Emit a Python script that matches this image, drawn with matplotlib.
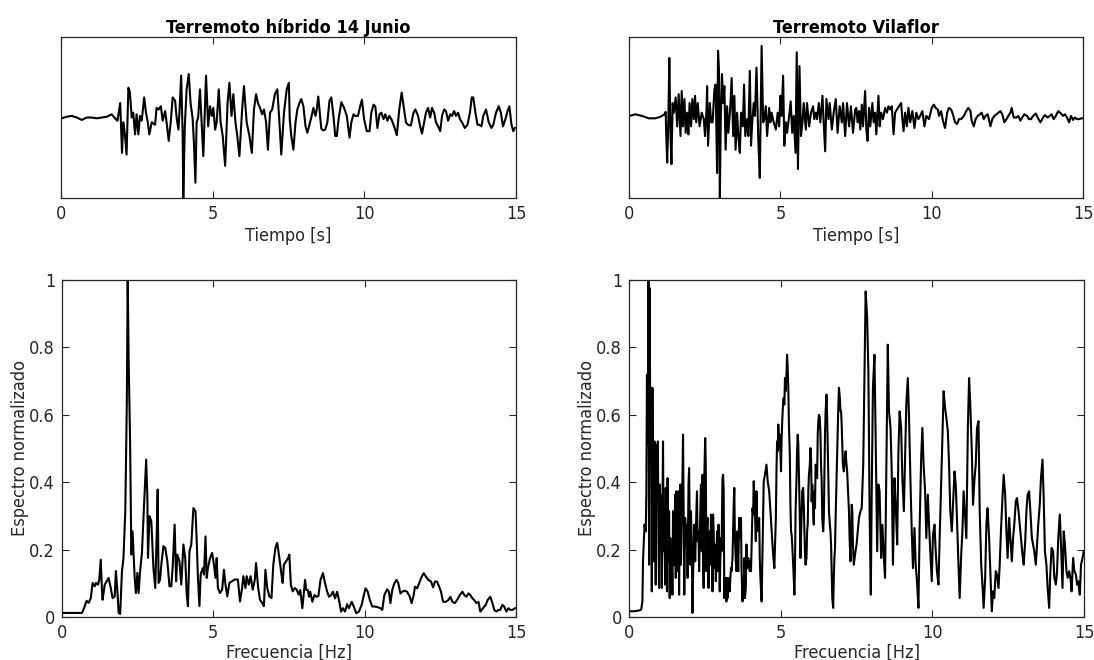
import matplotlib
matplotlib.use("Agg")
import matplotlib.pyplot as plt

plt.rcParams["font.family"] = ["DejaVu Sans"]
plt.rcParams["font.stretch"] = "condensed"

# --- señal: terremoto híbrido 14 junio (tiempo [s], amplitud normalizada) ---
t_hib = [0.02, 0.19, 0.35, 0.52, 0.68, 0.85, 1.01, 1.18, 1.34, 1.51,
         1.67, 1.78, 1.86, 1.95, 2.01, 2.05, 2.10, 2.16, 2.22, 2.27,
         2.33, 2.38, 2.44, 2.49, 2.55, 2.60, 2.66, 2.74, 2.80, 2.86,
         2.91, 2.99, 3.10, 3.15, 3.22, 3.29, 3.35, 3.43, 3.48, 3.55,
         3.62, 3.68, 3.76, 3.81, 3.87, 3.90, 3.96, 4.01, 4.03, 4.08,
         4.14, 4.21, 4.27, 4.34, 4.38, 4.43, 4.47, 4.52, 4.58, 4.64,
         4.69, 4.78, 4.85, 4.91, 4.97, 5.02, 5.08, 5.13, 5.20, 5.26,
         5.33, 5.41, 5.49, 5.55, 5.62, 5.68, 5.75, 5.81, 5.88, 5.97,
         6.03, 6.12, 6.21, 6.29, 6.36, 6.43, 6.49, 6.56, 6.63, 6.69,
         6.76, 6.82, 6.89, 6.96, 7.05, 7.13, 7.20, 7.26, 7.35, 7.44,
         7.51,
         7.54, 7.59, 7.66, 7.73, 7.79, 7.86, 7.92, 7.99, 8.06, 8.12,
         8.19, 8.25, 8.32, 8.39, 8.43, 8.48, 8.54, 8.58, 8.65, 8.71,
         8.78, 8.85, 8.91, 8.98, 9.04, 9.09, 9.15, 9.24, 9.33, 9.42,
         9.51, 9.57, 9.64, 9.70, 9.79, 9.86, 9.92, 9.99, 10.08, 10.17,
         10.23, 10.30, 10.36, 10.43, 10.50, 10.56, 10.63, 10.69, 10.76, 10.82,
         10.89, 10.98, 11.07, 11.15, 11.23, 11.31, 11.37, 11.44, 11.53, 11.62,
         11.68, 11.77, 11.84, 11.90, 11.97, 12.03, 12.10, 12.17, 12.23, 12.30,
         12.36, 12.43, 12.50, 12.56, 12.63, 12.69, 12.76, 12.83, 12.89, 12.96,
         13.02, 13.09, 13.15, 13.22, 13.31, 13.40, 13.48, 13.54, 13.59, 13.66,
         13.73, 13.79, 13.86, 13.92, 14.01, 14.10, 14.19, 14.25, 14.34, 14.43,
         14.50, 14.57, 14.65, 14.72, 14.78, 14.85, 14.91, 14.96]
a_hib = [-0.01, 0.01, 0.02, 0.00, -0.03, 0.00, 0.00, -0.01, 0.00, 0.01,
         0.04, -0.01, -0.04, 0.18, -0.44, -0.06, -0.19, -0.46, 0.37, 0.31,
         0.00, 0.06, -0.21, 0.04, -0.21, 0.02, -0.04, 0.25, 0.06, -0.06,
         -0.21, -0.06, -0.09, 0.12, 0.10, 0.14, -0.04, 0.08, -0.06, -0.29,
         -0.04, 0.25, 0.21, 0.00, -0.15, 0.04, 0.52, -0.23, -1.00, -0.11,
         0.35, 0.54, 0.18, -0.02, -0.31, -0.81, -0.06, 0.00, 0.35, -0.11,
         -0.48, 0.52, -0.11, 0.14, 0.02, 0.12, -0.15, -0.06, 0.35, -0.06,
         -0.23, -0.60, 0.18, 0.43, 0.02, 0.29, -0.06, -0.23, -0.48, 0.10,
         0.39, -0.06, -0.23, -0.44, 0.10, 0.29, 0.18, 0.12, 0.04, 0.10,
         -0.06, -0.40, 0.06, 0.10, 0.29, 0.35, -0.06, -0.46, 0.06, 0.35,
         0.43,
         -0.02, -0.23, -0.40, -0.06, 0.10, 0.18, 0.23, 0.14, -0.11, -0.19,
         -0.09, 0.00, 0.12, 0.02, 0.10, 0.26, 0.02, -0.14, -0.16, -0.15,
         -0.06, 0.21, 0.25, 0.02, -0.23, -0.23, -0.02, 0.19, 0.12, 0.02,
         -0.25, -0.06, 0.04, 0.02, 0.02, 0.14, 0.22, -0.02, -0.17, -0.17,
         0.06, 0.16, 0.14, -0.13, 0.04, 0.06, -0.02, 0.04, -0.04, 0.02,
         -0.02, -0.11, -0.22, 0.10, 0.31, 0.10, -0.06, -0.09, -0.10, 0.06,
         0.10, 0.02, -0.11, -0.20, -0.06, 0.06, 0.12, 0.00, 0.12, 0.06,
         -0.06, -0.11, -0.17, 0.02, 0.10, 0.08, -0.04, 0.04, 0.02, 0.08,
         0.02, 0.06, -0.02, -0.06, -0.13, -0.09, 0.06, 0.25, 0.25, 0.06,
         -0.09, -0.09, -0.11, 0.02, 0.10, -0.06, -0.13, -0.09, 0.06, 0.14,
         0.06, -0.11, -0.02, 0.08, 0.14, -0.09, -0.17, -0.13]

# --- señal: terremoto Vilaflor ---
t_vil = [0.02, 0.21, 0.43, 0.65, 0.87, 1.04, 1.17, 1.21, 1.23, 1.26,
         1.30, 1.33, 1.37, 1.40, 1.44, 1.48, 1.54, 1.59, 1.64, 1.70,
         1.74, 1.78, 1.83, 1.87, 1.92, 1.96, 2.00, 2.05, 2.09, 2.14,
         2.18, 2.22, 2.27, 2.33, 2.40, 2.47, 2.51, 2.56, 2.58, 2.61,
         2.67, 2.71, 2.76, 2.82, 2.86, 2.91, 2.94, 2.97, 3.00, 3.03,
         3.07, 3.11, 3.15, 3.19, 3.24, 3.28, 3.34, 3.39, 3.44, 3.48,
         3.52, 3.57, 3.61, 3.66, 3.70, 3.76, 3.80, 3.84, 3.90, 3.94,
         3.99, 4.03, 4.07, 4.12, 4.16, 4.21, 4.27, 4.32, 4.38, 4.43,
         4.47, 4.52, 4.56, 4.63, 4.67, 4.71, 4.78, 4.85, 4.91, 4.96,
         5.00, 5.04, 5.09, 5.13, 5.18, 5.22, 5.29, 5.34, 5.39, 5.44,
         5.50, 5.54, 5.58, 5.63, 5.68, 5.73, 5.77, 5.84, 5.88, 5.95,
         6.01, 6.08, 6.12, 6.17, 6.21, 6.27, 6.32, 6.39, 6.43, 6.48,
         6.52, 6.59, 6.63, 6.70, 6.76, 6.83, 6.89, 6.96, 7.03, 7.07,
         7.14, 7.20, 7.27, 7.33, 7.40, 7.47,
         7.51, 7.55, 7.60, 7.64, 7.69, 7.73, 7.80, 7.84, 7.88, 7.93,
         7.97, 8.04, 8.08, 8.13, 8.17, 8.24, 8.28, 8.33, 8.39, 8.46,
         8.52, 8.57, 8.63, 8.68, 8.74, 8.79, 8.85, 8.92, 8.99, 9.03,
         9.07, 9.12, 9.18, 9.23, 9.29, 9.36, 9.43, 9.49, 9.56, 9.62,
         9.69, 9.76, 9.82, 9.91, 10.00, 10.07, 10.13, 10.20, 10.24, 10.31,
         10.37, 10.44, 10.51, 10.57, 10.64, 10.68, 10.73, 10.77, 10.84, 10.90,
         10.97, 11.06, 11.14, 11.21, 11.28, 11.32, 11.39, 11.45, 11.52, 11.59,
         11.65, 11.72, 11.78, 11.85, 11.94, 12.00, 12.07, 12.14, 12.20, 12.27,
         12.33, 12.40, 12.47, 12.53, 12.60, 12.64, 12.71, 12.80, 12.86, 12.93,
         12.99, 13.06, 13.15, 13.21, 13.28, 13.35, 13.44, 13.50, 13.59, 13.68,
         13.74, 13.83, 13.90, 13.96, 14.03, 14.10, 14.18, 14.27, 14.34, 14.40,
         14.47, 14.54, 14.60, 14.67, 14.73, 14.80, 14.87, 14.95, 15.04]
a_vil = [0.02, 0.04, 0.02, -0.01, -0.01, 0.01, 0.04, 0.07, -0.23, -0.56,
         -0.02, 0.74, -0.23, -0.58, 0.18, 0.06, 0.25, -0.11, 0.29, -0.23,
         0.33, -0.11, 0.23, -0.19, 0.06, -0.21, 0.18, -0.11, 0.23, -0.02,
         0.27, -0.06, 0.18, -0.11, 0.06, -0.02, -0.23, 0.10, 0.39, -0.35,
         0.18, -0.06, -0.06, 0.35, 0.41, -0.69, 0.83, 0.60, -1.00, -0.02,
         0.54, 0.18, 0.39, -0.40, 0.14, -0.19, 0.10, 0.49, -0.23, 0.27,
         -0.40, 0.06, -0.23, -0.44, 0.06, -0.11, 0.41, -0.23, -0.02, -0.23,
         0.58, -0.35, -0.06, 0.18, 0.02, 0.62, -0.27, -0.75, 0.89, -0.06,
         -0.02, 0.14, -0.23, 0.12, -0.06, 0.06, -0.06, -0.15, 0.06, -0.11,
         0.27, 0.02, 0.52, -0.35, -0.06, -0.19, 0.02, 0.20, -0.19, 0.02,
         -0.44, 0.81, -0.64, 0.64, -0.23, -0.06, 0.18, -0.15, 0.18, -0.11,
         0.06, 0.14, -0.02, 0.06, -0.02, 0.18, -0.06, 0.27, -0.06, -0.42,
         0.23, -0.02, 0.18, -0.15, 0.06, 0.23, -0.19, 0.14, -0.06, 0.18,
         -0.23, 0.18, -0.11, 0.14, -0.19, 0.10,
         0.12, -0.06, 0.08, -0.15, 0.16, -0.11, 0.33, -0.15, -0.29, 0.12,
         -0.11, 0.18, -0.06, 0.06, -0.21, 0.27, -0.11, 0.06, -0.02, 0.12,
         0.06, 0.14, 0.10, 0.14, -0.21, 0.06, 0.10, 0.14, 0.18, -0.02,
         -0.17, 0.06, -0.11, 0.12, -0.06, 0.08, -0.13, 0.06, -0.02, 0.02,
         0.08, -0.11, 0.02, -0.02, 0.12, 0.16, 0.12, 0.10, 0.02, 0.08,
         -0.04, -0.13, 0.06, 0.12, 0.10, 0.06, 0.00, -0.06, -0.08, -0.02,
         -0.02, 0.02, 0.08, 0.12, 0.08, -0.04, -0.11, -0.02, 0.02, 0.04,
         0.06, -0.02, 0.02, 0.04, -0.11, -0.02, 0.02, 0.04, 0.06, 0.08,
         0.04, -0.06, -0.02, 0.02, 0.06, 0.12, 0.00, 0.00, 0.02, -0.04,
         0.00, 0.04, 0.02, -0.02, -0.02, 0.02, 0.05, 0.00, -0.06, 0.00,
         0.03, 0.00, 0.02, 0.04, -0.02, 0.02, 0.08, 0.05, 0.02, 0.04,
         0.00, -0.06, 0.02, -0.03, 0.00, -0.02, -0.02, -0.01, -0.01]

# --- espectro normalizado: híbrido (frecuencia [Hz]) ---
f_hib = [0.04, 0.26, 0.48, 0.66, 0.73, 0.81, 0.88, 0.95, 1.01, 1.08,
         1.12, 1.19, 1.23, 1.28, 1.32, 1.34, 1.41, 1.48, 1.54, 1.61,
         1.67, 1.74, 1.78, 1.83, 1.87, 1.92, 1.98, 2.03, 2.09, 2.14,
         2.17, 2.20, 2.25, 2.29, 2.33, 2.40, 2.44, 2.49, 2.53, 2.58,
         2.64, 2.71, 2.78, 2.82, 2.84, 2.89, 2.95, 3.02, 3.08, 3.13,
         3.16, 3.19, 3.24, 3.28, 3.35, 3.41, 3.48, 3.55, 3.61, 3.66,
         3.72, 3.77, 3.81, 3.88, 3.94, 4.01, 4.07, 4.12, 4.16, 4.21,
         4.27, 4.34, 4.41, 4.45, 4.49, 4.54, 4.58, 4.65, 4.69, 4.74,
         4.78, 4.82, 4.89, 4.96, 5.02, 5.07, 5.11, 5.15, 5.22, 5.29,
         5.35, 5.40, 5.46, 5.53, 5.62, 5.70, 5.81, 5.88, 5.95, 5.99,
         6.06, 6.10, 6.17, 6.23, 6.30, 6.37, 6.41, 6.48, 6.54, 6.61,
         6.67, 6.72, 6.78, 6.85, 6.92, 6.98, 7.05, 7.11, 7.18, 7.25,
         7.29, 7.33, 7.40, 7.47, 7.51, 7.56, 7.62, 7.69, 7.75, 7.82,
         7.87, 7.94, 8.03, 8.07, 8.12, 8.16, 8.20, 8.27, 8.34, 8.40,
         8.47, 8.54, 8.62, 8.69, 8.76, 8.82, 8.89, 8.95, 9.02, 9.09,
         9.15, 9.22, 9.28, 9.35, 9.42, 9.48, 9.57, 9.64, 9.72, 9.81,
         9.90, 9.97, 10.03, 10.10, 10.17, 10.25, 10.34, 10.43, 10.52, 10.58,
         10.65, 10.74, 10.80, 10.85, 10.91, 10.98, 11.05, 11.11, 11.18, 11.24,
         11.31, 11.40, 11.49, 11.55, 11.62, 11.66, 11.73, 11.80, 11.86, 11.95,
         12.02, 12.10, 12.19, 12.26, 12.32, 12.39, 12.46, 12.52, 12.59, 12.68,
         12.76, 12.83, 12.90, 12.98, 13.05, 13.14, 13.23, 13.29, 13.36, 13.43,
         13.49, 13.56, 13.62, 13.69, 13.76, 13.82, 13.91, 14.00, 14.06, 14.15,
         14.22, 14.28, 14.35, 14.42, 14.48, 14.55, 14.61, 14.68, 14.75, 14.81,
         14.88, 14.97]
s_hib = [0.012, 0.012, 0.012, 0.012, 0.027, 0.048, 0.042, 0.056, 0.101, 0.091,
         0.101, 0.096, 0.111, 0.170, 0.076, 0.051, 0.096, 0.106, 0.116, 0.086,
         0.056, 0.061, 0.136, 0.076, 0.012, 0.009, 0.136, 0.175, 0.314, 0.630,
         1.000, 0.769, 0.511, 0.185, 0.254, 0.116, 0.071, 0.131, 0.071, 0.136,
         0.190, 0.333, 0.467, 0.353, 0.175, 0.299, 0.284, 0.145, 0.086, 0.254,
         0.378, 0.101, 0.111, 0.155, 0.210, 0.205, 0.165, 0.091, 0.091, 0.155,
         0.274, 0.106, 0.185, 0.165, 0.096, 0.215, 0.175, 0.066, 0.032, 0.195,
         0.215, 0.323, 0.314, 0.225, 0.116, 0.032, 0.126, 0.145, 0.126, 0.239,
         0.116, 0.145, 0.175, 0.190, 0.155, 0.116, 0.175, 0.086, 0.071, 0.081,
         0.140, 0.096, 0.061, 0.101, 0.106, 0.111, 0.111, 0.046, 0.086, 0.121,
         0.086, 0.121, 0.096, 0.121, 0.081, 0.111, 0.160, 0.086, 0.051, 0.042,
         0.032, 0.140, 0.086, 0.061, 0.056, 0.155, 0.205, 0.220, 0.175, 0.126,
         0.101, 0.155, 0.165, 0.175, 0.185, 0.096, 0.076, 0.086, 0.081, 0.066,
         0.080, 0.026, 0.110, 0.080, 0.080, 0.060, 0.075, 0.045, 0.065, 0.060,
         0.062, 0.110, 0.130, 0.100, 0.075, 0.060, 0.065, 0.075, 0.055, 0.075,
         0.050, 0.016, 0.026, 0.016, 0.038, 0.026, 0.045, 0.031, 0.011, 0.016,
         0.036, 0.065, 0.085, 0.075, 0.050, 0.031, 0.031, 0.029, 0.026, 0.021,
         0.065, 0.082, 0.075, 0.041, 0.080, 0.100, 0.110, 0.100, 0.070, 0.075,
         0.078, 0.075, 0.060, 0.041, 0.065, 0.090, 0.085, 0.100, 0.115, 0.130,
         0.120, 0.110, 0.105, 0.088, 0.105, 0.105, 0.090, 0.075, 0.045, 0.045,
         0.050, 0.060, 0.045, 0.041, 0.050, 0.065, 0.075, 0.065, 0.060, 0.070,
         0.065, 0.055, 0.050, 0.041, 0.045, 0.016, 0.026, 0.036, 0.050, 0.060,
         0.041, 0.021, 0.016, 0.021, 0.021, 0.036, 0.031, 0.016, 0.026, 0.021,
         0.021, 0.026]

# --- espectro normalizado: Vilaflor ---
f_vil = [0.00, 0.15, 0.32, 0.40, 0.44, 0.46, 0.51, 0.55, 0.57, 0.59,
         0.62, 0.64, 0.66, 0.68, 0.70, 0.73, 0.75, 0.77, 0.79, 0.81,
         0.84, 0.86, 0.88, 0.90, 0.92, 0.95, 0.97, 0.99, 1.01, 1.03,
         1.05, 1.08, 1.10, 1.12, 1.14, 1.16, 1.19, 1.21, 1.23, 1.25,
         1.27, 1.30, 1.32, 1.34, 1.36, 1.38, 1.41, 1.43, 1.45, 1.47,
         1.49, 1.52, 1.54, 1.56, 1.58, 1.60, 1.63, 1.65, 1.67, 1.69,
         1.71, 1.74, 1.76, 1.78, 1.80, 1.82, 1.85, 1.87, 1.89, 1.91,
         1.93, 1.96, 1.98, 2.00, 2.02, 2.04, 2.07, 2.09, 2.11, 2.13,
         2.15, 2.18, 2.20, 2.22, 2.24, 2.26, 2.29, 2.31, 2.33, 2.35,
         2.37, 2.40, 2.42, 2.44, 2.46, 2.48, 2.51, 2.53, 2.55, 2.57,
         2.59, 2.62, 2.64, 2.66, 2.68, 2.70, 2.73, 2.75, 2.77, 2.79,
         2.81, 2.84, 2.86, 2.88, 2.90, 2.92, 2.95, 2.97, 2.99, 3.01,
         3.03, 3.05, 3.08, 3.10, 3.12, 3.14, 3.16, 3.19, 3.21, 3.23,
         3.25, 3.27, 3.30, 3.32, 3.34, 3.36, 3.38, 3.41, 3.43, 3.45,
         3.47, 3.49, 3.52, 3.54, 3.56, 3.58, 3.60, 3.63, 3.65, 3.67,
         3.69, 3.71, 3.74, 3.76, 3.78, 3.80, 3.82, 3.85, 3.87, 3.89,
         3.91, 3.93, 3.96, 3.98, 4.00, 4.02, 4.04, 4.07, 4.09, 4.11,
         4.13, 4.15, 4.18, 4.20, 4.22, 4.24, 4.26, 4.29, 4.31, 4.33,
         4.37, 4.42, 4.44, 4.48, 4.53, 4.57, 4.62, 4.66, 4.70, 4.75,
         4.79, 4.84, 4.86, 4.88, 4.90, 4.92, 4.95, 4.97, 4.99, 5.01,
         5.03, 5.05, 5.08, 5.10, 5.12, 5.14, 5.16, 5.19, 5.21, 5.23,
         5.25, 5.27, 5.30, 5.32, 5.34, 5.36, 5.38, 5.41, 5.43, 5.45,
         5.47, 5.49, 5.52, 5.54, 5.56, 5.58, 5.60, 5.63, 5.65, 5.67,
         5.69, 5.71, 5.74, 5.76, 5.78, 5.80, 5.82, 5.85, 5.87, 5.89,
         5.91, 5.93, 5.96, 5.98, 6.00, 6.02, 6.04, 6.07, 6.09, 6.11,
         6.13, 6.15, 6.18, 6.20, 6.22, 6.24, 6.26, 6.29, 6.31, 6.33,
         6.35, 6.37, 6.40, 6.42, 6.44, 6.46, 6.48, 6.51, 6.53, 6.55,
         6.57, 6.59, 6.62, 6.64, 6.66, 6.68, 6.70, 6.73, 6.75, 6.77,
         6.79, 6.81, 6.84, 6.86, 6.88, 6.90, 6.92, 6.95, 6.97, 6.99,
         7.01, 7.03, 7.05, 7.08, 7.10, 7.12, 7.14, 7.16, 7.19, 7.21,
         7.23, 7.25, 7.27, 7.30, 7.32, 7.34, 7.36, 7.38, 7.41,
         7.45, 7.50, 7.54, 7.58, 7.63, 7.67, 7.72, 7.76, 7.80, 7.85,
         7.89, 7.93, 7.97, 8.00, 8.04, 8.09, 8.13, 8.18, 8.22, 8.26,
         8.31, 8.35, 8.40, 8.44, 8.48, 8.53, 8.57, 8.62, 8.66, 8.70,
         8.75, 8.79, 8.84, 8.88, 8.92, 8.97, 9.01, 9.06, 9.10, 9.14,
         9.19, 9.23, 9.28, 9.32, 9.36, 9.41, 9.45, 9.50, 9.54, 9.58,
         9.63, 9.67, 9.71, 9.76, 9.80, 9.85, 9.89, 9.93, 9.98, 10.02,
         10.07, 10.11, 10.15, 10.20, 10.24, 10.29, 10.33, 10.37, 10.42, 10.46,
         10.51, 10.55, 10.59, 10.64, 10.68, 10.73, 10.77, 10.81, 10.86, 10.90,
         10.95, 10.99, 11.03, 11.08, 11.12, 11.17, 11.21, 11.25, 11.30, 11.34,
         11.39, 11.43, 11.47, 11.52, 11.56, 11.61, 11.65, 11.69, 11.74, 11.78,
         11.82, 11.87, 11.91, 11.96, 12.00, 12.04, 12.09, 12.13, 12.18, 12.22,
         12.26, 12.31, 12.35, 12.40, 12.44, 12.48, 12.53, 12.57, 12.62, 12.66,
         12.70, 12.75, 12.79, 12.84, 12.88, 12.92, 12.97, 13.01, 13.06, 13.10,
         13.14, 13.19, 13.23, 13.28, 13.32, 13.36, 13.41, 13.45, 13.49, 13.54,
         13.58, 13.63, 13.67, 13.71, 13.76, 13.80, 13.85, 13.89, 13.93, 13.98,
         14.02, 14.07, 14.11, 14.15, 14.20, 14.24, 14.29, 14.33, 14.37, 14.42,
         14.46, 14.51, 14.55, 14.59, 14.64, 14.68, 14.73, 14.77, 14.81, 14.86,
         14.90, 14.95, 14.99]
s_vil = [0.017, 0.017, 0.019, 0.022, 0.046, 0.165, 0.274, 0.254, 0.363, 0.719,
         0.511, 0.996, 0.155, 0.976, 0.531, 0.680, 0.076, 0.680, 0.333, 0.165,
         0.521, 0.314, 0.096, 0.511, 0.363, 0.521, 0.234, 0.086, 0.393, 0.254,
         0.363, 0.086, 0.314, 0.521, 0.195, 0.333, 0.096, 0.383, 0.234, 0.076,
         0.412, 0.165, 0.314, 0.056, 0.234, 0.086, 0.165, 0.066, 0.314, 0.234,
         0.155, 0.363, 0.116, 0.373, 0.136, 0.314, 0.373, 0.066, 0.314, 0.393,
         0.155, 0.333, 0.412, 0.541, 0.294, 0.066, 0.294, 0.234, 0.215, 0.274,
         0.116, 0.393, 0.442, 0.264, 0.155, 0.314, 0.215, 0.012, 0.116, 0.195,
         0.274, 0.165, 0.244, 0.314, 0.373, 0.225, 0.254, 0.136, 0.234, 0.314,
         0.393, 0.195, 0.422, 0.175, 0.086, 0.412, 0.531, 0.452, 0.136, 0.274,
         0.294, 0.086, 0.195, 0.254, 0.155, 0.304, 0.234, 0.076, 0.304, 0.254,
         0.145, 0.215, 0.106, 0.155, 0.254, 0.136, 0.274, 0.205, 0.076, 0.175,
         0.234, 0.195, 0.412, 0.422, 0.373, 0.056, 0.116, 0.096, 0.046, 0.116,
         0.056, 0.096, 0.116, 0.076, 0.116, 0.145, 0.136, 0.175, 0.254, 0.333,
         0.383, 0.234, 0.165, 0.136, 0.254, 0.195, 0.136, 0.294, 0.234, 0.274,
         0.294, 0.136, 0.046, 0.116, 0.056, 0.175, 0.056, 0.086, 0.215, 0.145,
         0.155, 0.175, 0.155, 0.136, 0.165, 0.136, 0.215, 0.323, 0.304, 0.403,
         0.353, 0.314, 0.225, 0.373, 0.254, 0.274, 0.264, 0.294, 0.175, 0.116,
         0.046, 0.294, 0.403, 0.422, 0.452, 0.403, 0.373, 0.314, 0.254, 0.185,
         0.145, 0.294, 0.432, 0.521, 0.492, 0.571, 0.501, 0.541, 0.492, 0.432,
         0.531, 0.581, 0.640, 0.650, 0.630, 0.709, 0.670, 0.719, 0.778, 0.739,
         0.680, 0.571, 0.482, 0.333, 0.254, 0.244, 0.215, 0.155, 0.116, 0.066,
         0.145, 0.314, 0.412, 0.492, 0.541, 0.511, 0.422, 0.294, 0.175, 0.244,
         0.314, 0.373, 0.383, 0.333, 0.254, 0.185, 0.155, 0.175, 0.254, 0.274,
         0.373, 0.422, 0.452, 0.501, 0.472, 0.343, 0.393, 0.314, 0.274, 0.373,
         0.323, 0.452, 0.442, 0.412, 0.541, 0.581, 0.600, 0.591, 0.541, 0.452,
         0.403, 0.294, 0.254, 0.294, 0.412, 0.541, 0.610, 0.660, 0.600, 0.511,
         0.412, 0.314, 0.274, 0.254, 0.215, 0.136, 0.056, 0.027, 0.116, 0.175,
         0.205, 0.294, 0.403, 0.482, 0.561, 0.630, 0.680, 0.650, 0.610, 0.610,
         0.571, 0.511, 0.452, 0.432, 0.452, 0.472, 0.492, 0.462, 0.432, 0.393,
         0.353, 0.314, 0.234, 0.165, 0.254, 0.333, 0.314, 0.215, 0.155,
         0.185, 0.215, 0.254, 0.294, 0.314, 0.323, 0.452, 0.709, 0.966, 0.887,
         0.729, 0.314, 0.066, 0.363, 0.680, 0.778, 0.531, 0.195, 0.393, 0.373,
         0.175, 0.274, 0.175, 0.116, 0.432, 0.808, 0.610, 0.561, 0.432, 0.155,
         0.412, 0.333, 0.215, 0.492, 0.610, 0.561, 0.412, 0.314, 0.472, 0.630,
         0.709, 0.591, 0.393, 0.254, 0.145, 0.264, 0.155, 0.096, 0.027, 0.264,
         0.472, 0.561, 0.452, 0.373, 0.234, 0.363, 0.274, 0.195, 0.106, 0.244,
         0.274, 0.195, 0.136, 0.096, 0.234, 0.393, 0.531, 0.670, 0.620, 0.591,
         0.551, 0.452, 0.314, 0.254, 0.333, 0.432, 0.393, 0.294, 0.155, 0.056,
         0.185, 0.254, 0.373, 0.294, 0.234, 0.561, 0.709, 0.630, 0.492, 0.333,
         0.412, 0.452, 0.561, 0.581, 0.314, 0.155, 0.096, 0.027, 0.116, 0.274,
         0.323, 0.234, 0.136, 0.017, 0.076, 0.056, 0.136, 0.126, 0.086, 0.155,
         0.254, 0.353, 0.422, 0.363, 0.254, 0.175, 0.294, 0.234, 0.165, 0.234,
         0.274, 0.343, 0.353, 0.314, 0.274, 0.234, 0.185, 0.155, 0.225, 0.314,
         0.363, 0.373, 0.314, 0.234, 0.215, 0.195, 0.155, 0.215, 0.274, 0.333,
         0.412, 0.467, 0.353, 0.195, 0.155, 0.086, 0.027, 0.136, 0.205, 0.195,
         0.116, 0.096, 0.136, 0.234, 0.304, 0.215, 0.086, 0.254, 0.215, 0.136,
         0.116, 0.136, 0.116, 0.076, 0.175, 0.136, 0.126, 0.096, 0.106, 0.066,
         0.155, 0.175, 0.195]

titles = ["Terremoto híbrido 14 Junio", "Terremoto Vilaflor"]
x_ticks = [0, 5, 10, 15]
y_ticks = [0, 0.2, 0.4, 0.6, 0.8, 1]
y_ticklabels = ["0", "0.2", "0.4", "0.6", "0.8", "1"]

EDGE = "#262626"
FS = 13


def style(ax):
    ax.tick_params(direction="in", top=True, right=True, length=5, width=0.8,
                   colors=EDGE, labelsize=FS, pad=5)
    for s in ax.spines.values():
        s.set_color(EDGE)
        s.set_linewidth(0.9)


fig = plt.figure(figsize=(10.94, 6.6), dpi=100)

# posiciones en fracción de figura
ax_top = [fig.add_axes([0.0558, 0.700, 0.4159, 0.2439]),
          fig.add_axes([0.5750, 0.700, 0.4150, 0.2439])]
ax_bot = [fig.add_axes([0.0567, 0.0652, 0.4150, 0.5106]),
          fig.add_axes([0.5750, 0.0652, 0.4159, 0.5106])]

signals = [(t_hib, a_hib), (t_vil, a_vil)]
spectra = [(f_hib, s_hib), (f_vil, s_vil)]

for i in range(2):
    ax = ax_top[i]
    ax.plot(signals[i][0], signals[i][1], color="black", lw=1.5)
    ax.set_xlim(0, 15)
    ax.set_ylim(-1, 1)
    ax.set_xticks(x_ticks)
    ax.set_yticks([])
    style(ax)
    ax.tick_params(left=False, right=False)
    ax.set_xlabel("Tiempo [s]", fontsize=FS, color=EDGE, labelpad=3)
    ax.set_title(titles[i], fontsize=FS, fontweight="bold", pad=3)

    ax = ax_bot[i]
    ax.plot(spectra[i][0], spectra[i][1], color="black", lw=1.5)
    ax.set_xlim(0, 15)
    ax.set_ylim(0, 1)
    ax.set_xticks(x_ticks)
    ax.set_yticks(y_ticks)
    ax.set_yticklabels(y_ticklabels)
    style(ax)
    ax.set_xlabel("Frecuencia [Hz]", fontsize=FS, color=EDGE, labelpad=1)
    ax.set_ylabel("Espectro normalizado", fontsize=FS, color=EDGE, labelpad=0)

fig.savefig("out.png", dpi=100)
